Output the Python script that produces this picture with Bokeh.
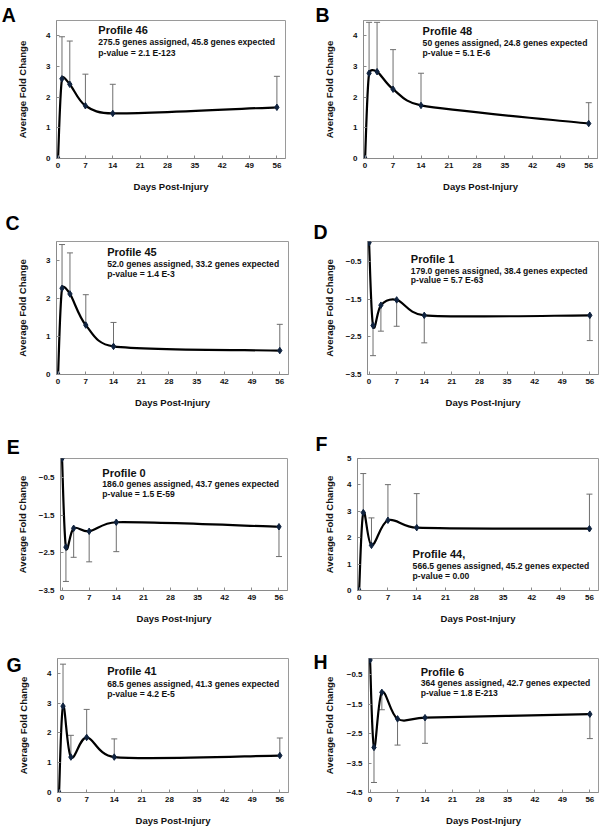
from math import hypot

from bokeh.plotting import figure
from bokeh.layouts import row, column
from bokeh.models import Label, Whisker, ColumnDataSource, FixedTicker, Range1d, TeeHead
from bokeh.embed import file_html
from bokeh.resources import INLINE

# ---- data ----
days = [0, 1, 3, 7, 14, 56]
x_ticks = [0, 7, 14, 21, 28, 35, 42, 49, 56]

letters = ["A", "B", "C", "D", "E", "F", "G", "H"]
titles = ["Profile 46", "Profile 48", "Profile 45", "Profile 1",
          "Profile 0", "Profile 44,", "Profile 41", "Profile 6"]
assigned = ["275.5 genes assigned, 45.8 genes expected",
            "50 genes assigned, 24.8 genes expected",
            "52.0 genes assigned, 33.2 genes expected",
            "179.0 genes assigned, 38.4 genes expected",
            "186.0 genes assigned, 43.7 genes expected",
            "566.5 genes assigned, 45.2 genes expected",
            "68.5 genes assigned, 41.3 genes expected",
            "364 genes assigned, 42.7 genes expected"]
pvalues = ["p-value = 2.1 E-123", "p-value = 5.1 E-6", "p-value = 1.4 E-3",
           "p-value = 5.7 E-63", "p-value = 1.5 E-59", "p-value = 0.00",
           "p-value = 4.2 E-5", "p-value = 1.8 E-213"]

# average fold change, and the end of the (one sided) error bar
fc_A = [0, 2.60, 2.42, 1.72, 1.47, 1.67]
bar_A = [0, 3.97, 3.83, 2.75, 2.42, 2.68]
fc_B = [0, 2.78, 2.83, 2.26, 1.73, 1.14]
bar_B = [0, 4.44, 4.44, 3.55, 2.78, 1.82]
fc_C = [0, 2.27, 2.12, 1.30, 0.74, 0.63]
bar_C = [0, 3.42, 3.20, 2.10, 1.37, 1.32]
fc_D = [0, -2.20, -1.66, -1.52, -1.93, -1.93]
bar_D = [0, -3.00, -2.35, -2.22, -2.66, -2.60]
fc_E = [0, -2.35, -1.85, -1.93, -1.69, -1.81]
bar_E = [0, -3.26, -2.62, -2.74, -2.47, -2.60]
fc_F = [0, 2.95, 1.71, 2.66, 2.38, 2.34]
bar_F = [0, 4.43, 2.75, 4.01, 3.67, 3.65]
fc_G = [0, 2.90, 1.19, 1.85, 1.19, 1.24]
bar_G = [0, 4.31, 1.92, 2.79, 1.80, 1.83]
fc_H = [0, -2.97, -1.10, -2.00, -1.96, -1.84]
bar_H = [0, -4.16, -1.69, -2.89, -2.83, -2.67]

fcs = [fc_A, fc_B, fc_C, fc_D, fc_E, fc_F, fc_G, fc_H]
bars = [bar_A, bar_B, bar_C, bar_D, bar_E, bar_F, bar_G, bar_H]

y_ranges = [(0, 4.5), (0, 4.5), (0, 3.5), (-3.5, 0.03),
            (-3.5, 0.0), (0, 5), (0, 4.5), (-4.5, 0.05)]
y_tick_sets = [[0, 1, 2, 3, 4], [0, 1, 2, 3, 4], [0, 1, 2, 3],
               [-0.5, -1.5, -2.5, -3.5], [-0.5, -1.5, -2.5, -3.5],
               [0, 1, 2, 3, 4, 5], [0, 1, 2, 3, 4],
               [-0.5, -1.5, -2.5, -3.5, -4.5]]

# ---- layout (pixels) ----
FONT = "Liberation Sans"
COL_W = 300
ROW_H = [205, 210, 212, 201]
# border left, right, top, bottom
borders = [(55, 15, 20, 47), (63, 3, 20, 47),
           (52, 12, 36, 41), (67, 2, 33, 39),
           (55, 13, 42, 35), (57, 2, 43, 37),
           (52, 12, 31, 36), (68, 2, 31, 36)]
ylabel_standoff = [15, 15, 15, 8, 8, 9, 15, 9]
# panel letter: left edge in the figure, and how far it is lifted above the frame top
letter_left = [0, 15, 0, 13, 0, 15, 0, 13]
letter_raise = [19, 19, 32, 23, 25, 28, 7, 10]
# where the profile text block starts (data units): x, title y, line y, line y
text_pos = [(10.3, 4.33, 3.90, 3.57), (14.4, 4.29, 3.87, 3.54),
            (12.4, 3.34, 3.00, 2.73), (10.6, -0.32, -0.65, -0.91),
            (10.4, -0.27, -0.58, -0.84), (13.0, 1.55, 1.06, 0.68),
            (12.2, 4.20, 3.76, 3.42), (12.9, -0.26, -0.67, -1.01)]
X_START, X_END = -0.4, 58.2


def smooth(xs, ys, sx, sy):
    # Excel style smoothed line: Catmull-Rom control points,
    # capped at half the segment length (measured in pixels)
    px = [x * sx for x in xs]
    py = [y * sy for y in ys]
    n = len(xs)
    out = {k: [] for k in ("x0", "y0", "x1", "y1", "cx0", "cy0", "cx1", "cy1")}
    for i in range(n - 1):
        a, b, c, d = max(i - 1, 0), i, i + 1, min(i + 2, n - 1)
        seg = hypot(px[c] - px[b], py[c] - py[b])
        t1 = (px[c] - px[a], py[c] - py[a])
        t2 = (px[d] - px[b], py[d] - py[b])
        l1, l2 = hypot(*t1), hypot(*t2)
        f1 = min(1 / 6, seg / 2 / l1) if l1 else 0
        f2 = min(1 / 6, seg / 2 / l2) if l2 else 0
        out["x0"].append(xs[b])
        out["y0"].append(ys[b])
        out["x1"].append(xs[c])
        out["y1"].append(ys[c])
        out["cx0"].append((px[b] + f1 * t1[0]) / sx)
        out["cy0"].append((py[b] + f1 * t1[1]) / sy)
        out["cx1"].append((px[c] - f2 * t2[0]) / sx)
        out["cy1"].append((py[c] - f2 * t2[1]) / sy)
    return out


def panel(i):
    L, R, T, B = borders[i]
    h = ROW_H[i // 2]
    y0, y1 = y_ranges[i]
    p = figure(width=COL_W, height=h,
               x_range=Range1d(X_START, X_END), y_range=Range1d(y0, y1),
               min_border_left=L, min_border_right=R,
               min_border_top=T, min_border_bottom=B,
               toolbar_location=None, output_backend="svg",
               x_axis_label="Days Post-Injury",
               y_axis_label="Average Fold Change")
    p.xgrid.visible = False
    p.ygrid.visible = False
    p.outline_line_color = "#9a9a9a"
    p.background_fill_color = "white"
    p.border_fill_color = "white"

    for ax in (p.xaxis[0], p.yaxis[0]):
        ax.axis_line_color = "#8a8a8a"
        ax.major_tick_line_color = "#8a8a8a"
        ax.major_tick_in = 3
        ax.major_tick_out = 0
        ax.minor_tick_line_color = None
        ax.major_label_text_font = FONT
        ax.major_label_text_font_style = "bold"
        ax.major_label_text_font_size = "8px"
        ax.major_label_text_color = "#111111"
        ax.axis_label_text_font = FONT
        ax.axis_label_text_font_style = "bold"
        ax.axis_label_text_font_size = "9.5px"
        ax.axis_label_text_color = "#111111"
    p.xaxis.ticker = FixedTicker(ticks=x_ticks)
    p.xaxis.major_label_standoff = 4
    p.xaxis.axis_label_standoff = 10
    p.yaxis.ticker = FixedTicker(ticks=y_tick_sets[i])
    p.yaxis.major_label_standoff = 6
    p.yaxis.axis_label_standoff = ylabel_standoff[i]

    fc, bar = fcs[i], bars[i]
    # error bars, one sided (day 0 has none)
    keep = [k for k in range(len(days)) if bar[k] != fc[k]]
    src = ColumnDataSource(dict(
        x=[days[k] for k in keep],
        lo=[min(fc[k], bar[k]) for k in keep],
        hi=[max(fc[k], bar[k]) for k in keep]))
    negative = bar[keep[0]] < fc[keep[0]]
    head = TeeHead(size=6, line_color="#6e6e6e", line_width=1)
    wk = Whisker(source=src, base="x", lower="lo", upper="hi",
                 line_color="#6e6e6e", line_width=1, level="underlay",
                 upper_head=None if negative else head,
                 lower_head=head if negative else None)
    p.add_layout(wk)

    sx = (COL_W - L - R) / (X_END - X_START)
    sy = (h - T - B) / (y1 - y0)
    seg = smooth(days, fc, sx, sy)
    p.bezier(x0="x0", y0="y0", x1="x1", y1="y1", cx0="cx0", cy0="cy0",
             cx1="cx1", cy1="cy1", source=ColumnDataSource(seg),
             line_color="black", line_width=2.2, line_cap="round")
    p.scatter(days, fc, marker="diamond", size=6.5,
              fill_color="#10233f", line_color="#10233f")

    # panel letter; kept in the left panel so it is not clipped by the frame
    p.add_layout(Label(x=X_START - (L - letter_left[i]) / sx, y=y1,
                       y_offset=letter_raise[i] - 2,
                       text=letters[i], text_font=FONT, text_font_style="bold",
                       text_font_size="19.5px", text_baseline="top",
                       text_color="black"), "left")

    tx, ty0, ty1, ty2 = text_pos[i]
    p.add_layout(Label(x=tx, y=ty0, y_offset=2, text=titles[i], text_font=FONT,
                       text_font_style="bold", text_font_size="11px",
                       text_baseline="top", text_color="#111111"))
    for ty, txt in ((ty1, assigned[i]), (ty2, pvalues[i])):
        p.add_layout(Label(x=tx, y=ty, y_offset=1.5, text=txt, text_font=FONT,
                           text_font_style="bold", text_font_size="8.6px",
                           text_baseline="top", text_color="#111111"))
    return p


figs = [panel(i) for i in range(8)]
page = column(*[row(figs[k], figs[k + 1]) for k in range(0, 8, 2)])

open("out.html", "w").write(file_html(page, INLINE))
